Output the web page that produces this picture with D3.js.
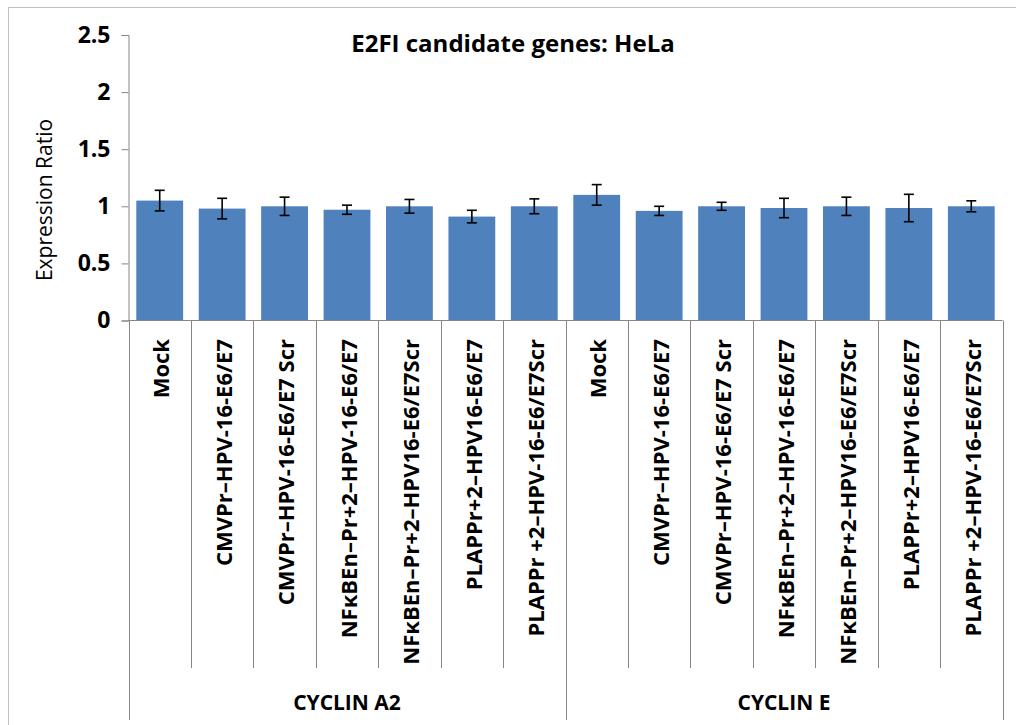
<!DOCTYPE html>
<html>
<head>
<meta charset="utf-8">
<script src="https://cdn.jsdelivr.net/npm/d3@7"></script>
<style>
  html, body { margin: 0; padding: 0; background: #fff; }
  svg text { font-family: "Open Sans", sans-serif; fill: #000; }
</style>
</head>
<body>
<svg id="viz"></svg>
<script>
var width = 1016;
var height = 725;

// data
var groups = ["CYCLIN A2", "CYCLIN E"];
var conditions = [
    "Mock",
    "CMVPr\u2013HPV-16-E6/E7",
    "CMVPr\u2013HPV-16-E6/E7 Scr",
    "NF\u03BABEn\u2013Pr+2\u2013HPV-16-E6/E7",
    "NF\u03BABEn\u2013Pr+2\u2013HPV16-E6/E7Scr",
    "PLAPPr+2\u2013HPV16-E6/E7",
    "PLAPPr +2\u2013HPV-16-E6/E7Scr"
];
var cyclinA2Values = [1.05, 0.98, 1.00, 0.97, 1.00, 0.91, 1.00];
var cyclinA2Errors = [0.09, 0.09, 0.08, 0.04, 0.06, 0.055, 0.065];
var cyclinEValues = [1.10, 0.96, 1.00, 0.985, 1.00, 0.985, 1.00];
var cyclinEErrors = [0.09, 0.04, 0.035, 0.085, 0.08, 0.12, 0.048];
var yTicks = [0, 0.5, 1, 1.5, 2, 2.5];

var rows = [];
[cyclinA2Values, cyclinEValues].forEach(function(vals, g) {
    var errs = g === 0 ? cyclinA2Errors : cyclinEErrors;
    vals.forEach(function(v, i) {
        rows.push({group: groups[g], label: conditions[i], value: v, err: errs[i], key: g + "-" + i});
    });
});

var svg = d3.select("#viz").attr("width", width).attr("height", height);

// outer chart frame
svg.append("rect")
    .attr("x", 8.5).attr("y", 7.5)
    .attr("width", 1100).attr("height", 800)
    .attr("fill", "none").attr("stroke", "#c0c0c0");

var x = d3.scaleBand()
    .domain(rows.map(function(d) { return d.key; }))
    .range([128.5, 1002.5])
    .paddingInner(0.25)
    .paddingOuter(0.125);

var y = d3.scaleLinear().domain([0, 2.5]).range([320.5, 35]);

// y axis
var yAxis = svg.append("g")
    .attr("transform", "translate(128.5,0)")
    .call(d3.axisLeft(y).tickValues(yTicks).tickSize(7).tickPadding(11)
        .tickFormat(function(d) { return d; }));
yAxis.selectAll("path, line").attr("stroke", "#868686");
yAxis.selectAll("text")
    .attr("font-size", 23).attr("font-weight", "bold")
    .style("font-family", "'Open Sans', sans-serif");

svg.append("text")
    .attr("transform", "translate(52,200) rotate(-90)")
    .attr("text-anchor", "middle")
    .attr("font-size", 21)
    .text("Expression Ratio");

svg.append("text")
    .attr("x", 513).attr("y", 52)
    .attr("text-anchor", "middle")
    .attr("font-size", 24).attr("font-weight", "bold")
    .text("E2FI candidate genes: HeLa");

// bars
svg.append("g").selectAll("rect")
    .data(rows).enter()
    .append("rect")
    .attr("x", function(d) { return x(d.key); })
    .attr("y", function(d) { return y(d.value); })
    .attr("width", x.bandwidth())
    .attr("height", function(d) { return y(0) - y(d.value); })
    .attr("fill", "#4f81bd");

// error bars
var eb = svg.append("g").attr("stroke", "#000").attr("stroke-width", 1.6)
    .selectAll("g").data(rows).enter().append("g")
    .attr("transform", function(d) { return "translate(" + (x(d.key) + x.bandwidth() / 2) + ",0)"; });
eb.append("line")
    .attr("y1", function(d) { return y(d.value + d.err); })
    .attr("y2", function(d) { return y(d.value - d.err); });
eb.append("line").attr("x1", -5).attr("x2", 5)
    .attr("y1", function(d) { return y(d.value + d.err); })
    .attr("y2", function(d) { return y(d.value + d.err); });
eb.append("line").attr("x1", -5).attr("x2", 5)
    .attr("y1", function(d) { return y(d.value - d.err); })
    .attr("y2", function(d) { return y(d.value - d.err); });

// category axis baseline and dividers
var step = x.step();
var x0 = x.range()[0];
svg.append("line")
    .attr("x1", x0).attr("x2", x.range()[1])
    .attr("y1", y(0)).attr("y2", y(0))
    .attr("stroke", "#868686");

var dividers = d3.range(rows.length + 1);
svg.append("g").selectAll("line")
    .data(dividers).enter()
    .append("line")
    .attr("x1", function(i) { return Math.round(x0 + i * step) + 0.5; })
    .attr("x2", function(i) { return Math.round(x0 + i * step) + 0.5; })
    .attr("y1", y(0))
    .attr("y2", function(i) { return i % conditions.length === 0 ? 720 : 668; })
    .attr("stroke", "#868686");

// condition labels
svg.append("g").selectAll("text")
    .data(rows).enter()
    .append("text")
    .attr("transform", function(d) {
        return "translate(" + (x(d.key) + x.bandwidth() / 2 + 2) + ",339) rotate(-90)";
    })
    .attr("text-anchor", "end")
    .attr("dy", "0.35em")
    .attr("font-size", 22).attr("font-weight", "bold")
    .text(function(d) { return d.label; });

// group labels
svg.append("g").selectAll("text")
    .data(groups).enter()
    .append("text")
    .attr("x", function(g, i) { return x0 + (i + 0.5) * conditions.length * step; })
    .attr("y", 710)
    .attr("text-anchor", "middle")
    .attr("font-size", 21).attr("font-weight", "bold")
    .text(function(g) { return g; });
</script>
</body>
</html>
